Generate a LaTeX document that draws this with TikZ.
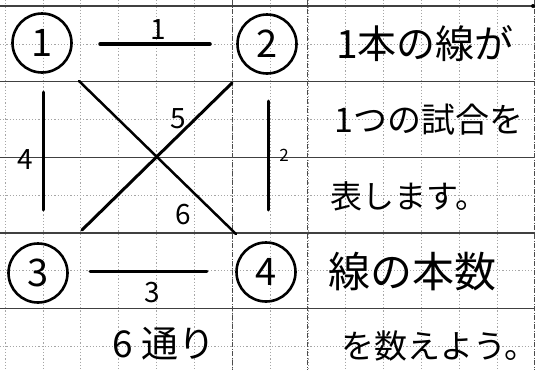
\documentclass[tikz,border=0pt]{standalone}
\usepackage{fontspec}
\newfontfamily\jp{Noto Sans CJK JP}
\begin{document}
\begin{tikzpicture}[x=1pt,y=-1pt,
  gridline/.style={gray!70,line width=0.6pt,dash pattern=on 1.2pt off 2pt},
  rowline/.style={black!75,line width=1.4pt},
  colline/.style={black!70,line width=1pt,dash pattern=on 5pt off 1.5pt on 1pt off 1.5pt},
  stroke/.style={black,line width=3pt,line cap=round},
  numcirc/.style={circle,draw,line width=2.6pt,minimum size=59pt,inner sep=0pt,font=\jp\fontsize{38}{40}\selectfont},
  lab/.style={font=\jp\fontsize{28}{30}\selectfont,inner sep=0pt},
  txt/.style={anchor=west,inner sep=0pt}]
\useasboundingbox (0,0) rectangle (538,370);
\fill[white] (0,0) rectangle (538,370);
% grid
\foreach \k in {0,...,13}{\draw[gridline] ({5+37.86*\k},0) -- ({5+37.86*\k},370);}
\foreach \k in {1,3,5,7,9}{\draw[gridline] (0,{6+37.8*\k}) -- (535,{6+37.8*\k});}
\foreach \k in {0,2,4,6,8}{\draw[rowline] (0,{6+37.8*\k}) -- (535,{6+37.8*\k});}
\draw[colline] (232,0) -- (232,370);
\draw[colline] (307,0) -- (307,370);
\draw[colline] (534,0) -- (534,370);
\fill (533,6) circle (2pt);
% circles
\node[numcirc] (c1) at (42,43) {1};
\node[numcirc] (c2) at (267,44) {2};
\node[numcirc] (c3) at (38,273) {3};
\node[numcirc] (c4) at (266,272) {4};
% line 1
\coordinate (a1) at (100,44); \coordinate (b1) at (210,44);
\draw[stroke,line width=3.5pt] (a1) -- (b1);
\node[lab] (l1) at (158,30) {1};
% line 3
\coordinate (a3) at (90,271); \coordinate (b3) at (207,271);
\draw[stroke] (a3) -- (b3);
\node[lab] (l3) at (152,293) {3};
% line 4
\coordinate (a4) at (43,92); \coordinate (b4) at (43,210);
\draw[stroke] (a4) -- (b4);
\node[lab] (l4) at (25,160) {4};
% line 2
\coordinate (a2) at (268,101); \coordinate (b2) at (268,210);
\draw[stroke] (a2) -- (b2);
\node[lab,font=\jp\fontsize{17}{18}\selectfont] (l2) at (284,155) {2};
% X lines
\coordinate (x1) at (79,81); \coordinate (x2) at (236,234);
\coordinate (y1) at (232,83); \coordinate (y2) at (82,230);
\draw[stroke,line width=2.5pt] (x1) -- (x2);
\draw[stroke,line width=3pt] (y1) -- (y2);
\node[lab] (l5) at (178,119) {5};
\node[lab] (l6) at (183,215) {6};
% bottom
\node[txt,font=\jp\fontsize{37}{40}\selectfont] (ways) at (112,344) {6 通り};
% right text
\node[txt,font=\jp\fontsize{39}{42}\selectfont] (t1) at (336,44) {1本の線が};
\node[txt,font=\jp\fontsize{34}{38}\selectfont] (t2) at (334,120) {1つの試合を};
\node[txt,font=\jp\fontsize{32}{36}\selectfont] (t3) at (330,196) {表します。};
\node[txt,font=\jp\fontsize{42}{46}\selectfont] (t4) at (328,272) {線の本数};
\node[txt,font=\jp\fontsize{33}{36}\selectfont] (t5) at (341,346) {を数えよう。};
\end{tikzpicture}
\end{document}
